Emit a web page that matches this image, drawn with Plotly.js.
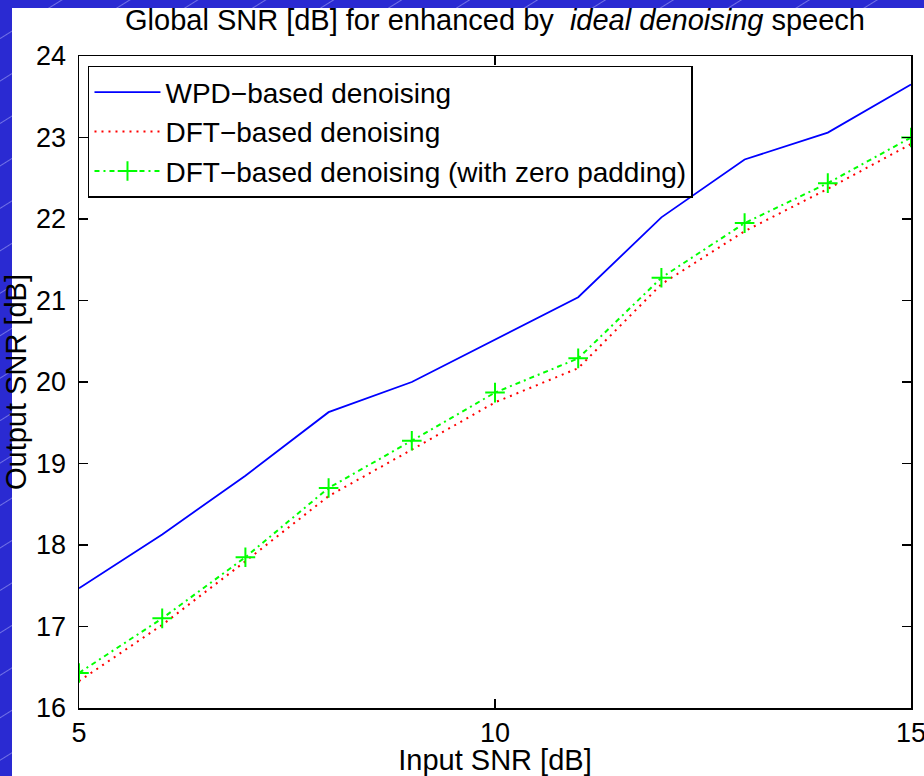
<!DOCTYPE html>
<html>
<head>
<meta charset="utf-8">
<script src="https://cdn.plot.ly/plotly-3.0.1.min.js"></script>
<style>
  html, body { margin: 0; padding: 0; }
  body {
    width: 924px; height: 776px; overflow: hidden; position: relative;
    background-color: #2a2ad2;
    background-image: repeating-linear-gradient(-32deg, rgba(255,255,255,0) 0px, rgba(255,255,255,0) 34px, rgba(200,200,255,0.45) 35px, rgba(255,255,255,0) 36px);
  }
  #sheet { position: absolute; left: 12px; top: 8px; width: 912px; height: 768px; background: #ffffff; }
  #chart { position: absolute; left: 0; top: 0; width: 924px; height: 776px; }
</style>
</head>
<body>
<div id="sheet"></div>
<div id="chart"></div>
<script>
// Input SNR [dB]
const inputSNR = [5, 6, 7, 8, 9, 10, 11, 12, 13, 14, 15];
// Output SNR [dB] per method
const wpdDenoising = [17.47, 18.13, 18.85, 19.63, 20.00, 20.52, 21.04, 22.02, 22.73, 23.06, 23.65];
const dftDenoising = [16.33, 17.02, 17.80, 18.60, 19.17, 19.75, 20.17, 21.20, 21.85, 22.37, 22.92];
const dftZeroPadding = [16.43, 17.10, 17.85, 18.70, 19.28, 19.87, 20.29, 21.28, 21.95, 22.44, 23.00];
const seriesNames = ["WPD\u2212based denoising", "DFT\u2212based denoising", "DFT\u2212based denoising (with zero padding)"];
const xTicks = [5, 10, 15];
const yTicks = [16, 17, 18, 19, 20, 21, 22, 23, 24];

const FONT = "Liberation Sans, Arial, Helvetica, sans-serif";

const traces = [
  { x: inputSNR, y: wpdDenoising, name: seriesNames[0], type: "scatter", mode: "lines",
    line: { color: "#0000ff", width: 1.8 } },
  { x: inputSNR, y: dftDenoising, name: seriesNames[1], type: "scatter", mode: "lines",
    line: { color: "#ff0000", width: 2, dash: "2px,5px" } },
  { x: inputSNR, y: dftZeroPadding, name: seriesNames[2], type: "scatter", mode: "lines+markers",
    line: { color: "#00ff00", width: 2, dash: "5px,4px,2px,4px" },
    marker: { symbol: "cross-thin-open", size: 14, color: "#00ff00", line: { color: "#00ff00", width: 2 } } }
];

const axisCommon = {
  showgrid: false, zeroline: false, showline: true, linecolor: "#000", linewidth: 1.5,
  mirror: "ticks", ticks: "inside", ticklen: 9, tickwidth: 1.5, tickcolor: "#000",
  tickfont: { family: FONT, size: 27, color: "#000" }, tickmode: "array", automargin: false,
  ticklabeloverflow: "allow"
};

const layout = {
  width: 924, height: 776,
  paper_bgcolor: "rgba(0,0,0,0)", plot_bgcolor: "#ffffff",
  margin: { l: 79, r: 13, t: 56, b: 68 },
  font: { family: FONT, color: "#000" },
  title: {
    text: "Global SNR [dB] for enhanced by  <i>ideal denoising</i> speech",
    font: { family: FONT, size: 29, color: "#000" },
    x: 0.5, xref: "paper", xanchor: "center",
    y: 0.974, yref: "container", yanchor: "middle"
  },
  xaxis: Object.assign({}, axisCommon, {
    range: [5, 15], tickvals: xTicks, ticktext: xTicks.map(String),
    title: { text: "Input SNR [dB]", font: { family: FONT, size: 29, color: "#000" }, standoff: 5 }
  }),
  yaxis: Object.assign({}, axisCommon, {
    range: [16, 24], tickvals: yTicks, ticktext: yTicks.map(String), ticklabelstandoff: 6,
    title: { text: "Output SNR [dB]", font: { family: FONT, size: 29, color: "#000" }, standoff: 5 }
  }),
  showlegend: true,
  legend: {
    x: 0.0108, y: 0.9847, xanchor: "left", yanchor: "top",
    bgcolor: "#ffffff", bordercolor: "#000", borderwidth: 1.5,
    font: { family: FONT, size: 28, color: "#000" },
    itemwidth: 66, tracegroupgap: 0
  }
};

Plotly.newPlot("chart", traces, layout, { displayModeBar: false, staticPlot: true });
</script>
</body>
</html>
